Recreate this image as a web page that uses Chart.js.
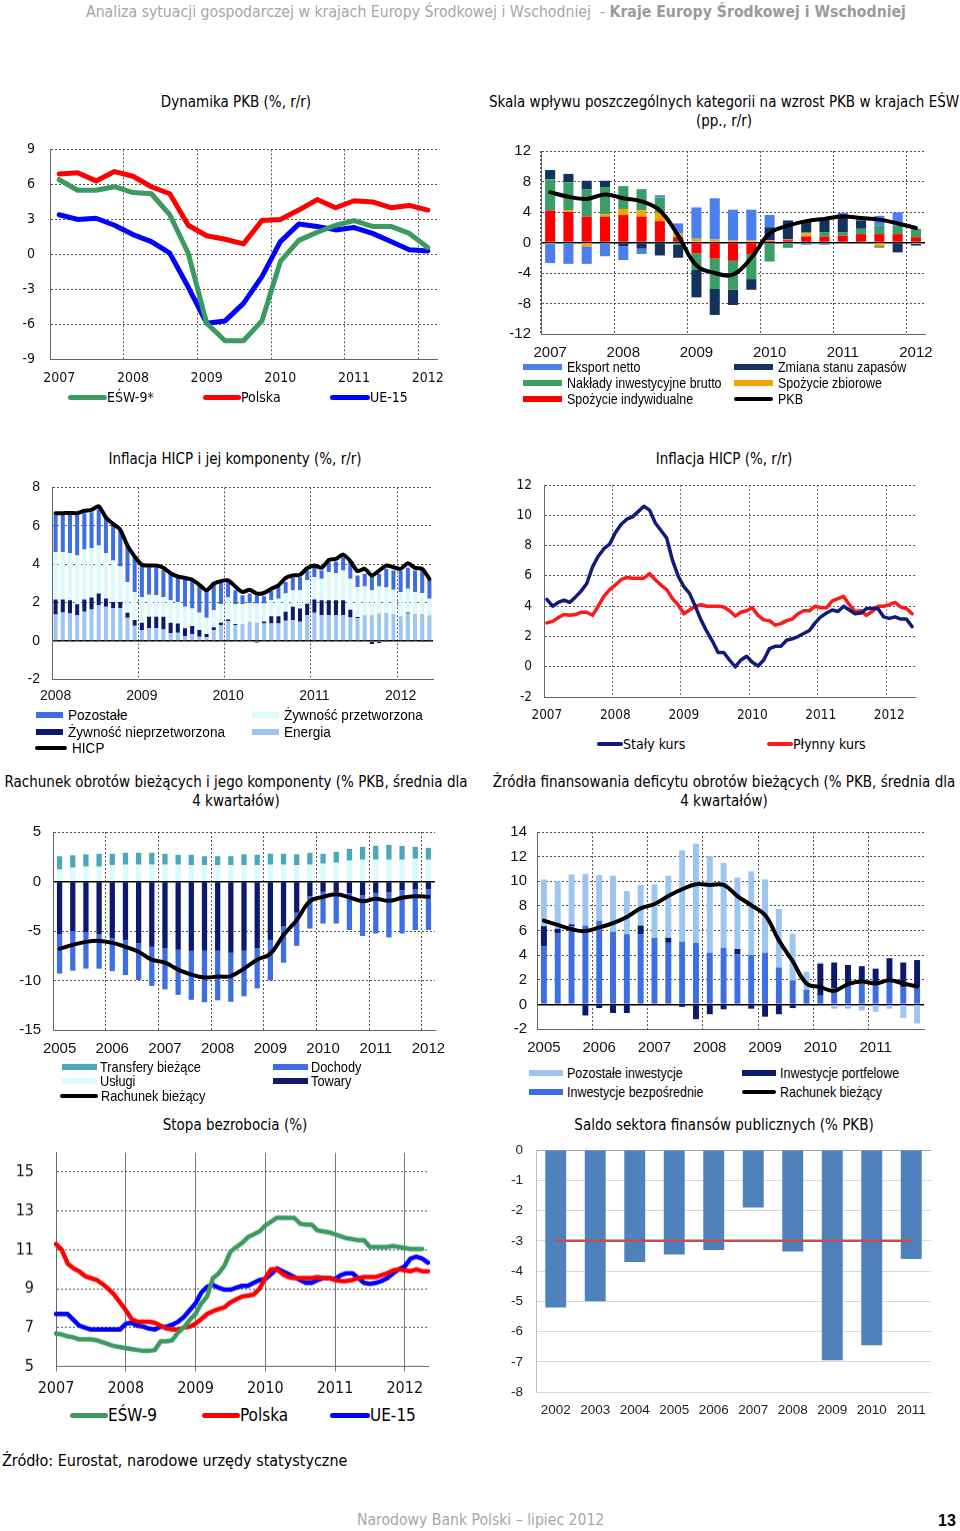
<!DOCTYPE html>
<html lang="pl">
<head>
<meta charset="utf-8">
<title>Kraje Europy Środkowej i Wschodniej</title>
<script src="https://cdn.jsdelivr.net/npm/chart.js@4.4.1/dist/chart.umd.min.js"></script>
<style>
  html, body { margin: 0; padding: 0; background: #fff; }
  body { position: relative; width: 960px; height: 1531px; overflow: hidden; color: #000;
         font-family: "Liberation Sans", Arial, sans-serif; }
  .box { position: absolute; }
  .txt { position: absolute; white-space: nowrap; line-height: 1; transform: translateY(-50%); }
  .title { position: absolute; width: 480px; text-align: center; line-height: 19px; font-size: 15px;
           font-family: "DejaVu Sans Condensed", "Liberation Sans", sans-serif; }
  .lg { position: absolute; display: flex; align-items: center; white-space: nowrap; line-height: 1;
        transform: translateY(-50%); }
  .lg i { display: block; flex: none; }
  .lg span { display: inline-block; transform-origin: 0 50%; }
</style>
</head>
<body>

<div class="txt" style="left:86px;top:12px;font-size:15.7px;color:#a6a6a6;font-family:'DejaVu Sans Condensed',sans-serif">Analiza sytuacji gospodarczej w krajach Europy Środkowej i Wschodniej&nbsp; - <b style="color:#9a9a9a">Kraje Europy Środkowej i Wschodniej</b></div>

<div class="title" style="left:-4px;top:93px">Dynamika PKB (%, r/r)</div>
<div class="title" style="left:484px;top:93px">Skala wpływu poszczególnych kategorii na wzrost PKB w krajach EŚW<br>(pp., r/r)</div>
<div class="title" style="left:-5px;top:450px">Inflacja HICP i jej komponenty (%, r/r)</div>
<div class="title" style="left:484px;top:450px">Inflacja HICP (%, r/r)</div>
<div class="title" style="left:-4px;top:773px">Rachunek obrotów bieżących i jego komponenty (% PKB, średnia dla<br>4 kwartałów)</div>
<div class="title" style="left:484px;top:773px">Źródła finansowania deficytu obrotów bieżących (% PKB, średnia dla<br>4 kwartałów)</div>
<div class="title" style="left:-5px;top:1116px">Stopa bezrobocia (%)</div>
<div class="title" style="left:484px;top:1116px">Saldo sektora finansów publicznych (% PKB)</div>

<div class="box" id="c1"><canvas></canvas></div>
<div class="box" id="c2"><canvas></canvas></div>
<div class="box" id="c3"><canvas></canvas></div>
<div class="box" id="c4"><canvas></canvas></div>
<div class="box" id="c5"><canvas></canvas></div>
<div class="box" id="c6"><canvas></canvas></div>
<div class="box" id="c7"><canvas></canvas></div>
<div class="box" id="c8"><canvas></canvas></div>

<div class="txt" style="left:2px;top:1461px;font-size:16px;font-family:'DejaVu Sans Condensed','Liberation Sans',sans-serif">Źródło: Eurostat, narodowe urzędy statystyczne</div>
<div class="txt" style="left:357px;top:1521px;font-size:15.6px;color:#a6a6a6;font-family:'DejaVu Sans Condensed',sans-serif">Narodowy Bank Polski – lipiec 2012</div>
<div class="txt" style="left:938px;top:1521px;font-size:16px;font-weight:bold">13</div>

<script>
// ---------------------------------------------------------------------------
// Data
// ---------------------------------------------------------------------------

// 1. Dynamika PKB, quarterly 2007Q1-2012Q1
const YEARS_1 = ['2007', '2008', '2009', '2010', '2011', '2012'];
const PKB_ESW = [6.4, 5.5, 5.5, 5.8, 5.3, 5.2, 3.4, 0.1, -5.9, -7.4, -7.4, -5.7, -0.6, 1.2, 1.9, 2.5, 2.9, 2.4, 2.4, 1.8, 0.6];
const PKB_PL = [6.9, 7.0, 6.3, 7.1, 6.7, 5.8, 5.2, 2.5, 1.6, 1.3, 0.9, 2.9, 3.0, 3.8, 4.7, 4.0, 4.6, 4.5, 4.0, 4.2, 3.8];
const PKB_UE = [3.4, 3.0, 3.1, 2.5, 1.7, 1.1, 0.1, -2.8, -5.9, -5.7, -4.2, -1.9, 1.1, 2.6, 2.4, 2.1, 2.3, 1.8, 1.1, 0.4, 0.3];

// 2. Contributions to GDP growth, quarterly 2007Q1-2012Q1
const YEARS_2 = ['2007', '2008', '2009', '2010', '2011', '2012'];
const SPOZ_IND = [4.2, 4.0, 3.4, 3.4, 3.6, 3.4, 2.8, 0.7, -1.4, -2.1, -2.4, -1.5, 0.2, 0.3, 0.8, 0.8, 0.9, 1.1, 1.1, 1.1, 0.7];
const SPOZ_ZB = [-0.2, 0.2, -0.5, 0.3, 0.8, 0.8, 1.1, 0.5, 0.5, 0.4, 0.3, 0.3, 0.1, 0.1, 0.4, 0.0, -0.1, -0.1, -0.5, -0.1, -0.2];
const NAKLADY = [4.1, 3.7, 3.6, 3.5, 3.0, 2.8, 2.0, -0.3, -2.2, -4.0, -3.8, -3.3, -2.5, -0.7, 0.1, 0.5, 0.4, 0.7, 1.1, 1.1, 1.1];
const ZAPASY = [1.2, 1.1, 1.1, 0.9, -0.5, -0.8, -1.7, -1.7, -3.6, -3.4, -2.0, -1.4, 1.7, 2.5, 1.6, 1.7, 2.4, 1.1, -0.15, -1.2, -0.2];
const EKSPORT = [-2.5, -2.8, -2.3, -1.8, -1.8, -0.7, 0.3, 1.3, 4.1, 5.4, 4.0, 4.0, 1.6, 0.0, -0.3, -0.3, 0.2, 0.4, 1.3, 1.75, 0.0];
const PKB_2 = [6.6, 6.0, 5.7, 6.3, 5.8, 5.4, 4.2, 0.9, -3.0, -4.0, -4.2, -2.0, 1.2, 2.2, 2.8, 3.1, 3.4, 3.2, 3.0, 2.5, 1.9];

// 3. HICP components, monthly 2008-01..2012-05
const YEARS_3 = ['2008', '2009', '2010', '2011', '2012'];
const ENERGIA = [1.38, 1.48, 1.43, 1.34, 1.52, 1.64, 1.86, 1.78, 1.72, 1.72, 1.21, 0.79,
  0.57, 0.66, 0.66, 0.6, 0.4, 0.43, 0.26, 0.36, 0.22, 0.19, 0.57, 0.83,
  1.03, 0.83, 0.88, 1.0, 0.95, 0.91, 0.91, 0.91, 1.05, 1.09, 1.0, 1.34,
  1.47, 1.34, 1.34, 1.34, 1.34, 1.22, 1.2, 1.34, 1.34, 1.43, 1.47, 1.4,
  1.29, 1.43, 1.4, 1.4, 1.34];
const ZYW_NIEPRZ = [0.78, 0.68, 0.69, 0.57, 0.64, 0.62, 0.61, 0.43, 0.31, 0.31, 0.26, 0.3,
  0.38, 0.6, 0.6, 0.66, 0.55, 0.48, 0.4, 0.42, 0.35, 0.17, 0.14, 0.12,
  0.09, 0.05, 0.0, 0.0, -0.08, 0.1, 0.38, 0.38, 0.47, 0.69, 0.69, 0.6,
  0.69, 0.78, 0.78, 0.78, 0.78, 0.41, 0.05, 0.0, -0.15, -0.1, -0.05, 0.0,
  0.0, 0.05, 0.0, -0.05, -0.05];
const ZYW_PRZ = [2.46, 2.46, 2.45, 2.54, 2.6, 2.57, 2.5, 2.36, 2.16, 1.85, 1.6, 1.46,
  1.34, 1.15, 1.12, 1.03, 1.17, 1.12, 1.12, 0.91, 0.9, 0.85, 0.89, 0.96,
  1.14, 1.03, 1.03, 0.98, 1.0, 0.94, 0.83, 0.91, 0.95, 0.86, 0.95, 1.22,
  1.17, 1.12, 1.47, 1.41, 1.55, 1.61, 1.56, 1.5, 1.3, 1.41, 1.31, 1.27,
  1.26, 1.24, 1.15, 1.1, 0.86];
const POZOSTALE = [1.98, 1.98, 2.03, 2.15, 1.89, 1.87, 1.89, 1.86, 1.98, 1.86, 1.9, 1.81,
  1.64, 1.47, 1.45, 1.42, 1.41, 1.33, 1.5, 1.55, 1.43, 1.43, 1.47, 1.28,
  0.9, 0.73, 0.47, 0.49, 0.43, 0.38, 0.48, 0.61, 0.6, 0.65, 0.69, 0.51,
  0.55, 0.43, 0.51, 0.61, 0.69, 0.86, 0.6, 0.66, 0.69, 0.66, 0.98, 1.0,
  1.09, 1.09, 1.12, 1.2, 0.99];
const HICP_3 = [6.66, 6.66, 6.67, 6.66, 6.78, 6.83, 7.02, 6.43, 6.09, 5.79, 4.97, 4.4,
  3.97, 3.93, 3.93, 3.81, 3.53, 3.36, 3.28, 3.19, 2.93, 2.64, 2.98, 3.12,
  3.16, 2.84, 2.55, 2.67, 2.47, 2.5, 2.72, 2.9, 3.28, 3.41, 3.45, 3.79,
  3.93, 3.81, 4.22, 4.28, 4.5, 4.16, 3.64, 3.76, 3.41, 3.67, 3.93, 3.84,
  3.76, 4.05, 3.81, 3.76, 3.24];

// 4. HICP by exchange-rate regime, monthly 2007-01..2012-05
const YEARS_4 = ['2007', '2008', '2009', '2010', '2011', '2012'];
const STALY_KURS = [4.45, 4.0, 4.25, 4.4, 4.25, 4.6, 5.0, 5.5, 6.6, 7.3, 7.8, 8.1,
  8.85, 9.4, 9.75, 9.9, 10.25, 10.6, 10.35, 9.5, 9.0, 8.5, 7.05, 6.0,
  5.3, 4.85, 4.0, 3.1, 2.35, 1.7, 0.95, 0.95, 0.45, 0.0, 0.45, 0.7,
  0.3, 0.05, 0.45, 1.2, 1.35, 1.35, 1.75, 1.85, 2.0, 2.2, 2.4, 2.9,
  3.3, 3.55, 3.75, 3.65, 4.0, 3.75, 3.5, 3.55, 3.85, 3.85, 3.85, 3.3,
  3.2, 3.3, 3.15, 3.15, 2.65];
const PLYNNY_KURS = [2.9, 3.0, 3.25, 3.45, 3.4, 3.45, 3.6, 3.6, 3.4, 4.0, 4.65, 5.1,
  5.4, 5.75, 5.9, 5.85, 5.85, 5.85, 6.15, 5.75, 5.4, 5.1, 4.5, 4.1,
  3.5, 3.75, 4.0, 4.1, 4.0, 4.0, 4.0, 3.95, 3.7, 3.35, 3.6, 3.7,
  3.9, 3.4, 3.1, 3.05, 2.75, 2.85, 3.05, 3.15, 3.5, 3.7, 3.7, 4.0,
  3.9, 3.9, 4.35, 4.5, 4.65, 4.1, 3.65, 3.7, 3.4, 3.65, 4.0, 4.0,
  4.1, 4.25, 3.95, 3.85, 3.5];

// 5. Current account components, quarterly 2005Q1-2012Q1
const YEARS_5 = ['2005', '2006', '2007', '2008', '2009', '2010', '2011', '2012'];
const USLUGI = [1.2, 1.4, 1.5, 1.5, 1.65, 1.7, 1.7, 1.7, 1.7, 1.7, 1.65, 1.65, 1.65, 1.65, 1.65, 1.65, 1.7, 1.7, 1.65, 1.7, 1.8, 1.9, 2.1, 2.2, 2.2, 2.2, 2.2, 2.3, 2.2];
const TRANSFERY = [1.35, 1.25, 1.25, 1.3, 1.15, 1.2, 1.2, 1.2, 1.1, 1.0, 1.05, 0.9, 0.9, 0.9, 1.1, 1.05, 1.1, 1.1, 1.1, 1.2, 1.0, 1.1, 1.2, 1.3, 1.4, 1.5, 1.4, 1.2, 1.2];
const TOWARY = [-5.35, -5.0, -5.1, -5.35, -5.7, -5.9, -6.25, -6.6, -6.75, -6.9, -7.0, -7.0, -7.0, -7.2, -7.0, -6.75, -5.9, -4.55, -3.15, -1.5, -1.05, -1.05, -1.2, -1.4, -1.15, -1.1, -0.9, -0.8, -0.8];
const DOCHODY = [-3.95, -4.0, -3.7, -3.45, -3.35, -3.55, -3.7, -3.95, -4.15, -4.55, -4.95, -5.2, -5.0, -4.95, -4.6, -4.05, -4.1, -3.65, -3.35, -3.25, -3.2, -3.2, -3.7, -4.1, -4.1, -4.55, -4.35, -4.1, -4.1];
const RACHUNEK_5 = [-6.8, -6.4, -6.1, -6.0, -6.2, -6.6, -7.1, -7.9, -8.2, -8.9, -9.4, -9.7, -9.6, -9.55, -8.8, -7.9, -7.3, -5.4, -3.9, -2.0, -1.55, -1.3, -1.6, -2.0, -1.75, -1.95, -1.65, -1.5, -1.55];

// 6. Financing of the current account deficit, quarterly 2005Q1-2011Q4
const YEARS_6 = ['2005', '2006', '2007', '2008', '2009', '2010', '2011'];
const INW_BEZP = [4.7, 5.75, 6.35, 6.4, 6.8, 5.9, 5.7, 5.7, 5.4, 5.0, 5.1, 5.0, 4.2, 4.6, 4.05, 4.0, 4.2, 3.0, 1.95, 1.2, 0.7, 1.3, 1.5, 1.7, 1.7, 1.8, 1.4, 1.4];
const INW_PORTF = [1.65, 0.4, 0.15, -0.9, -0.3, -0.7, -0.7, 0.7, 0.0, 0.4, -0.2, -1.2, -0.8, -0.4, 0.45, -0.35, -1.0, -0.8, -0.3, 0.0, 2.6, 2.1, 1.7, 1.4, 1.2, 1.95, 2.0, 2.2];
const INW_POZOST = [3.8, 3.85, 4.05, 4.2, 3.7, 4.55, 3.5, 3.3, 4.35, 5.05, 7.4, 8.05, 7.85, 6.9, 5.8, 6.8, 5.95, 4.75, 3.8, 1.45, 0.1, -0.35, -0.35, -0.5, -0.6, -0.35, -1.1, -1.55];
const RACHUNEK_6 = [6.8, 6.45, 6.1, 5.95, 6.25, 6.6, 7.1, 7.8, 8.15, 8.8, 9.35, 9.75, 9.7, 9.7, 8.8, 8.05, 7.25, 5.2, 3.5, 1.7, 1.4, 1.1, 1.65, 1.85, 1.7, 1.95, 1.7, 1.45];

// 7. Unemployment rate, monthly 2007-01..2012-05
const YEARS_7 = ['2007', '2008', '2009', '2010', '2011', '2012'];
const Y_TICKS_7 = [5, 7, 9, 11, 13, 15];
const BEZR_ESW = [6.7, 6.65, 6.55, 6.5, 6.4, 6.4, 6.4, 6.35, 6.25, 6.15, 6.05, 6.0,
  5.95, 5.9, 5.85, 5.8, 5.8, 5.85, 6.3, 6.3, 6.35, 6.75, 7.0, 7.4,
  7.7, 8.25, 8.6, 9.55, 9.8, 10.2, 10.9, 11.15, 11.35, 11.65, 11.8, 11.95,
  12.25, 12.45, 12.65, 12.65, 12.65, 12.65, 12.35, 12.3, 12.3, 12.0, 11.95, 11.9,
  11.8, 11.7, 11.6, 11.55, 11.5, 11.5, 11.15, 11.15, 11.15, 11.15, 11.2, 11.15,
  11.1, 11.05, 11.05, 11.05, null];
const BEZR_PL = [11.3, 11.0, 10.3, 10.05, 9.9, 9.65, 9.55, 9.45, 9.25, 9.0, 8.7, 8.3,
  7.9, 7.45, 7.3, 7.3, 7.3, 7.25, 7.1, 6.95, 6.9, 6.9, 7.0, 7.05,
  7.2, 7.45, 7.7, 7.85, 7.95, 8.05, 8.3, 8.45, 8.6, 8.65, 8.7, 9.0,
  9.55, 10.0, 10.0, 9.75, 9.6, 9.55, 9.55, 9.55, 9.55, 9.6, 9.55, 9.55,
  9.45, 9.4, 9.4, 9.45, 9.55, 9.6, 9.6, 9.6, 9.7, 9.8, 9.95, 10.0,
  9.95, 9.9, 10.0, 9.9, 9.9];
const BEZR_UE = [7.7, 7.7, 7.7, 7.4, 7.1, 7.0, 6.9, 6.9, 6.9, 6.9, 6.9, 6.9,
  7.2, 7.25, 7.1, 7.05, 6.95, 6.9, 7.05, 7.05, 7.15, 7.3, 7.55, 7.9,
  8.25, 8.8, 9.1, 9.2, 9.05, 8.95, 8.95, 9.05, 9.15, 9.15, 9.3, 9.45,
  9.5, 9.75, 10.05, 9.9, 9.75, 9.6, 9.45, 9.3, 9.3, 9.45, 9.55, 9.55,
  9.5, 9.7, 9.8, 9.8, 9.55, 9.3, 9.25, 9.3, 9.4, 9.55, 9.8, 10.0,
  10.15, 10.55, 10.65, 10.55, 10.35];

// 8. General government balance, annual
const YEARS_8 = ['2002', '2003', '2004', '2005', '2006', '2007', '2008', '2009', '2010', '2011'];
const SALDO = [-5.2, -5.0, -3.7, -3.45, -3.3, -1.9, -3.35, -6.95, -6.45, -3.6];
const KRYTERIUM = [-3, -3, -3, -3, -3, -3, -3, -3, -3, -3];

// ---------------------------------------------------------------------------
// Shared styling helpers
// ---------------------------------------------------------------------------
const FONT_V = '"DejaVu Sans Condensed", "DejaVu Sans", sans-serif';
const FONT_A = '"Liberation Sans", Arial, sans-serif';
const DOT = [2, 2];
const GRID = '#555';
const NONE = 'rgba(0,0,0,0)';

Chart.defaults.color = '#111';
Chart.defaults.font.family = FONT_A;

function rows(n) {
  // category slots; the tick callback only prints a year at each period start
  return Array.from({ length: n }, (_, i) => String(i));
}

function yearTicks(years, per, font, padding) {
  return {
    autoSkip: false, maxRotation: 0, padding, font,
    callback: (v, i) => (i % per === 0 ? years[i / per] : ''),
  };
}

function yearGrid(per, offset, color) {
  return { offset, drawTicks: false, color: (c) => (c.index % per === 0 ? color : NONE) };
}

function valueGrid(zeroSolid) {
  const isZero = (c) => zeroSolid && c.tick && c.tick.value === 0;
  return {
    grid: { drawTicks: false, color: (c) => (isZero(c) ? '#000' : GRID), lineWidth: (c) => (isZero(c) ? 1.5 : 1) },
    border: { color: '#666', dash: (c) => (isZero(c) ? [] : DOT) },
  };
}

function line(label, data, color, width, tension) {
  return {
    type: 'line', label, data, borderColor: color, backgroundColor: color, borderWidth: width,
    pointRadius: 0, tension: tension || 0, borderJoinStyle: 'round', borderCapStyle: 'round', order: 0,
  };
}

function bar(label, data, color, pct) {
  return {
    type: 'bar', label, data, backgroundColor: color, stack: 'bars',
    categoryPercentage: 1, barPercentage: pct, order: 1,
  };
}

// plot = [left, top, right, bottom] of the plotting area on the page,
// m = [y-axis width, top padding, right padding, x-axis height].
// After the first layout the box is nudged so the chart area lands on `plot`.
function build(id, plot, m, config) {
  const box = document.getElementById(id);
  let left = plot[0] - m[0];
  let top = plot[1] - m[1];
  let width = plot[2] - plot[0] + m[0] + m[2];
  let height = plot[3] - plot[1] + m[1] + m[3];
  const setBox = () => {
    box.style.left = left + 'px';
    box.style.top = top + 'px';
    box.style.width = width + 'px';
    box.style.height = height + 'px';
  };
  setBox();
  const o = config.options;
  Object.assign(o, {
    responsive: true, maintainAspectRatio: false, animation: false, events: [],
    layout: { padding: { left: 0, top: m[1], right: m[2], bottom: 0 } },
    plugins: { legend: { display: false }, tooltip: { enabled: false } },
  });
  o.scales.x.afterFit = (s) => { s.height = m[3]; };
  o.scales.y.afterFit = (s) => { s.width = m[0]; };
  const chart = new Chart(box.querySelector('canvas'), config);

  const ca = chart.chartArea;
  width += (plot[2] - plot[0]) - (ca.right - ca.left);
  height += (plot[3] - plot[1]) - (ca.bottom - ca.top);
  left = plot[0] - ca.left;
  top = plot[1] - ca.top;
  setBox();
  chart.resize(width, height);
  return chart;
}

function legend(items, font, gap, squeeze) {
  for (const [x, y, w, h, color, text] of items) {
    const d = document.createElement('div');
    d.className = 'lg';
    d.style.left = x + 'px';
    d.style.top = y + 'px';
    d.style.font = font;
    d.innerHTML = `<i style="width:${w}px;height:${h}px;background:${color};margin-right:${gap}px;border-radius:${h < 6 ? h / 2 : 0}px"></i>` +
      `<span style="transform:scaleX(${squeeze || 1})">${text}</span>`;
    document.body.appendChild(d);
  }
}

// ---------------------------------------------------------------------------
// Colours
// ---------------------------------------------------------------------------
const C_GREEN = '#3c9a60';
const C_RED = '#ff0000';
const C_BLUE = '#0000ff';
const C_NAVY = '#0c1a6e';
const C_ROYAL = '#3d6fe3';
const C_PALE = '#dcfafa';
const C_SKY = '#9cc6f0';

// ---------------------------------------------------------------------------
// 1. Dynamika PKB
// ---------------------------------------------------------------------------
build('c1', [50, 149, 437, 359], [50, 12, 16, 32], {
  type: 'line',
  data: {
    labels: rows(PKB_PL.length),
    datasets: [
      line('EŚW-9*', PKB_ESW, C_GREEN, 5),
      line('Polska', PKB_PL, C_RED, 5),
      line('UE-15', PKB_UE, C_BLUE, 5),
    ],
  },
  options: {
    scales: {
      x: { offset: true, grid: yearGrid(4, true, GRID), border: { color: '#666', dash: DOT },
           ticks: yearTicks(YEARS_1, 4, { family: FONT_V, size: 14 }, 11) },
      y: { min: -9, max: 9, ...valueGrid(false),
           ticks: { stepSize: 3, padding: 15, font: { family: FONT_V, size: 14 } } },
    },
  },
});
legend([
  [68, 397, 39, 5, C_GREEN, 'EŚW-9*'],
  [203, 397, 38, 5, C_RED, 'Polska'],
  [330, 397, 40, 5, C_BLUE, 'UE-15'],
], `14px ${FONT_V}`, 0);

// ---------------------------------------------------------------------------
// 2. Skala wpływu kategorii na wzrost PKB
// ---------------------------------------------------------------------------
build('c2', [541, 151, 925, 334], [60, 12, 16, 30], {
  type: 'bar',
  data: {
    labels: rows(PKB_2.length),
    datasets: [
      line('PKB', PKB_2, '#000', 4, 0.4),
      bar('Spożycie indywidualne', SPOZ_IND, '#ff0000', 0.55),
      bar('Spożycie zbiorowe', SPOZ_ZB, '#f5a400', 0.55),
      bar('Nakłady inwestycyjne brutto', NAKLADY, '#3b9e67', 0.55),
      bar('Zmiana stanu zapasów', ZAPASY, '#15325f', 0.55),
      bar('Eksport netto', EKSPORT, '#4b7ff0', 0.55),
    ],
  },
  options: {
    scales: {
      x: { stacked: true, offset: true, grid: yearGrid(4, true, GRID), border: { color: '#666', dash: DOT },
           ticks: yearTicks(YEARS_2, 4, { size: 15 }, 10) },
      y: { stacked: true, min: -12, max: 12, ...valueGrid(true),
           ticks: { stepSize: 4, padding: 10, font: { size: 15 } } },
    },
  },
});
legend([
  [523, 367, 39, 6, '#4b7ff0', 'Eksport netto'],
  [734, 367, 39, 6, '#15325f', 'Zmiana stanu zapasów'],
  [523, 383, 39, 6, '#3b9e67', 'Nakłady inwestycyjne brutto'],
  [734, 383, 39, 6, '#f5a400', 'Spożycie zbiorowe'],
  [523, 399, 39, 6, '#ff0000', 'Spożycie indywidualne'],
  [734, 399, 39, 4, '#000', 'PKB'],
], `14.5px ${FONT_A}`, 5, 0.86);

// ---------------------------------------------------------------------------
// 3. Inflacja HICP i jej komponenty
// ---------------------------------------------------------------------------
build('c3', [52, 487, 433, 679], [50, 12, 14, 28], {
  type: 'bar',
  data: {
    labels: rows(HICP_3.length),
    datasets: [
      line('HICP', HICP_3, '#000', 4, 0.2),
      bar('Energia', ENERGIA, C_SKY, 0.56),
      bar('Żywność nieprzetworzona', ZYW_NIEPRZ, C_NAVY, 0.56),
      bar('Żywność przetworzona', ZYW_PRZ, C_PALE, 0.56),
      bar('Pozostałe', POZOSTALE, C_ROYAL, 0.56),
    ],
  },
  options: {
    scales: {
      x: { stacked: true, offset: true, grid: yearGrid(12, true, GRID), border: { color: '#666', dash: DOT },
           ticks: yearTicks(YEARS_3, 12, { size: 14 }, 8) },
      y: { stacked: true, min: -2, max: 8, ...valueGrid(true),
           ticks: { stepSize: 2, padding: 12, font: { size: 14 } } },
    },
  },
});
legend([
  [36, 715, 27, 6, C_ROYAL, 'Pozostałe'],
  [252, 715, 27, 6, C_PALE, 'Żywność przetworzona'],
  [36, 732, 27, 6, C_NAVY, 'Żywność nieprzetworzona'],
  [252, 732, 27, 6, C_SKY, 'Energia'],
  [35, 748, 32, 4, '#000', 'HICP'],
], `14px ${FONT_A}`, 5, 0.97);

// ---------------------------------------------------------------------------
// 4. Inflacja HICP: stały / płynny kurs
// ---------------------------------------------------------------------------
build('c4', [544, 485, 915, 697], [60, 12, 16, 32], {
  type: 'line',
  data: {
    labels: rows(STALY_KURS.length),
    datasets: [
      line('Stały kurs', STALY_KURS, '#101c78', 3.5),
      line('Płynny kurs', PLYNNY_KURS, '#ff1a1a', 3.5),
    ],
  },
  options: {
    scales: {
      x: { offset: true, grid: yearGrid(12, true, '#777'), border: { color: '#666', dash: DOT },
           ticks: yearTicks(YEARS_4, 12, { family: FONT_V, size: 13.5 }, 10) },
      y: { min: -2, max: 12, ...valueGrid(false),
           ticks: { stepSize: 2, padding: 12, font: { family: FONT_V, size: 13.5 } } },
    },
  },
});
legend([
  [597, 744, 26, 4, '#101c78', 'Stały kurs'],
  [767, 744, 26, 4, '#ff1a1a', 'Płynny kurs'],
], `14px ${FONT_V}`, 0);

// ---------------------------------------------------------------------------
// 5. Rachunek obrotów bieżących
// ---------------------------------------------------------------------------
build('c5', [53, 832, 435, 1030], [50, 12, 16, 32], {
  type: 'bar',
  data: {
    labels: rows(RACHUNEK_5.length),
    datasets: [
      line('Rachunek bieżący', RACHUNEK_5, '#000', 4, 0.4),
      bar('Usługi', USLUGI, C_PALE, 0.4),
      bar('Transfery bieżące', TRANSFERY, '#4aa8ba', 0.4),
      bar('Towary', TOWARY, C_NAVY, 0.4),
      bar('Dochody', DOCHODY, C_ROYAL, 0.4),
    ],
  },
  options: {
    scales: {
      x: { stacked: true, offset: true, grid: yearGrid(4, true, GRID), border: { color: '#666', dash: DOT },
           ticks: yearTicks(YEARS_5, 4, { size: 15 }, 10) },
      y: { stacked: true, min: -15, max: 5, ...valueGrid(true),
           ticks: { stepSize: 5, padding: 12, font: { size: 15 } } },
    },
  },
});
legend([
  [62, 1067, 35, 6, '#4aa8ba', 'Transfery bieżące'],
  [273, 1067, 35, 6, C_ROYAL, 'Dochody'],
  [62, 1081, 35, 6, C_PALE, 'Usługi'],
  [273, 1081, 35, 6, C_NAVY, 'Towary'],
  [60, 1096, 38, 4, '#000', 'Rachunek bieżący'],
], `14.5px ${FONT_A}`, 3, 0.88);

// ---------------------------------------------------------------------------
// 6. Źródła finansowania deficytu
// ---------------------------------------------------------------------------
build('c6', [537, 832, 924, 1029], [55, 12, 16, 32], {
  type: 'bar',
  data: {
    labels: rows(RACHUNEK_6.length),
    datasets: [
      line('Rachunek bieżący', RACHUNEK_6, '#000', 4, 0.4),
      bar('Inwestycje bezpośrednie', INW_BEZP, C_ROYAL, 0.43),
      bar('Inwestycje portfelowe', INW_PORTF, C_NAVY, 0.43),
      bar('Pozostałe inwestycje', INW_POZOST, C_SKY, 0.43),
    ],
  },
  options: {
    scales: {
      x: { stacked: true, offset: true, grid: yearGrid(4, true, GRID), border: { color: '#666', dash: DOT },
           ticks: yearTicks(YEARS_6, 4, { size: 15 }, 10) },
      y: { stacked: true, min: -2, max: 14, ...valueGrid(true),
           ticks: { stepSize: 2, padding: 10, font: { size: 15 } } },
    },
  },
});
legend([
  [529, 1073, 34, 6, C_SKY, 'Pozostałe inwestycje'],
  [742, 1073, 34, 6, C_NAVY, 'Inwestycje portfelowe'],
  [529, 1092, 34, 6, C_ROYAL, 'Inwestycje bezpośrednie'],
  [742, 1092, 34, 4, '#000', 'Rachunek bieżący'],
], `14.5px ${FONT_A}`, 4, 0.86);

// ---------------------------------------------------------------------------
// 7. Stopa bezrobocia
// ---------------------------------------------------------------------------
build('c7', [56, 1153, 428, 1366], [56, 12, 16, 36], {
  type: 'line',
  data: {
    labels: rows(BEZR_PL.length),
    datasets: [
      line('EŚW-9', BEZR_ESW, C_GREEN, 4.5),
      line('Polska', BEZR_PL, C_RED, 4.5),
      line('UE-15', BEZR_UE, C_BLUE, 4.5),
    ],
  },
  options: {
    scales: {
      x: { offset: false,
           grid: { offset: false, drawTicks: true, tickLength: 5, color: (c) => (c.index % 12 === 0 ? '#777' : NONE) },
           border: { color: '#666' },
           ticks: yearTicks(YEARS_7, 12, { family: FONT_V, size: 16 }, 8) },
      y: { min: 5, max: 16,
           afterBuildTicks: (s) => { s.ticks = Y_TICKS_7.map((v) => ({ value: v })); },
           grid: { drawTicks: false, color: GRID }, border: { color: '#666', dash: DOT },
           ticks: { padding: 22, font: { family: FONT_V, size: 16 } } },
    },
  },
});
legend([
  [70, 1415, 38, 5, C_GREEN, 'EŚW-9'],
  [202, 1415, 38, 5, C_RED, 'Polska'],
  [330, 1415, 40, 5, C_BLUE, 'UE-15'],
], `17px ${FONT_V}`, 0);

// ---------------------------------------------------------------------------
// 8. Saldo sektora finansów publicznych
// ---------------------------------------------------------------------------
build('c8', [536, 1150, 931, 1392], [50, 12, 10, 30], {
  type: 'bar',
  data: {
    labels: YEARS_8,
    datasets: [
      line('Kryterium', KRYTERIUM, '#c0504d', 2.5),
      { type: 'bar', label: 'Saldo', data: SALDO, backgroundColor: '#4f81bd',
        categoryPercentage: 1, barPercentage: 0.53, order: 1 },
    ],
  },
  options: {
    scales: {
      x: { grid: { display: false, drawTicks: false }, border: { display: false },
           ticks: { padding: 10, font: { size: 13.5 }, color: '#222' } },
      y: { min: -8, max: 0,
           grid: { drawTicks: false, color: (c) => (c.tick && c.tick.value === 0 ? '#a6a6a6' : '#d9d9d9') },
           border: { color: '#bfbfbf' },
           ticks: { stepSize: 1, padding: 13, font: { size: 13.5 }, color: '#222' } },
    },
  },
});
</script>
</body>
</html>
